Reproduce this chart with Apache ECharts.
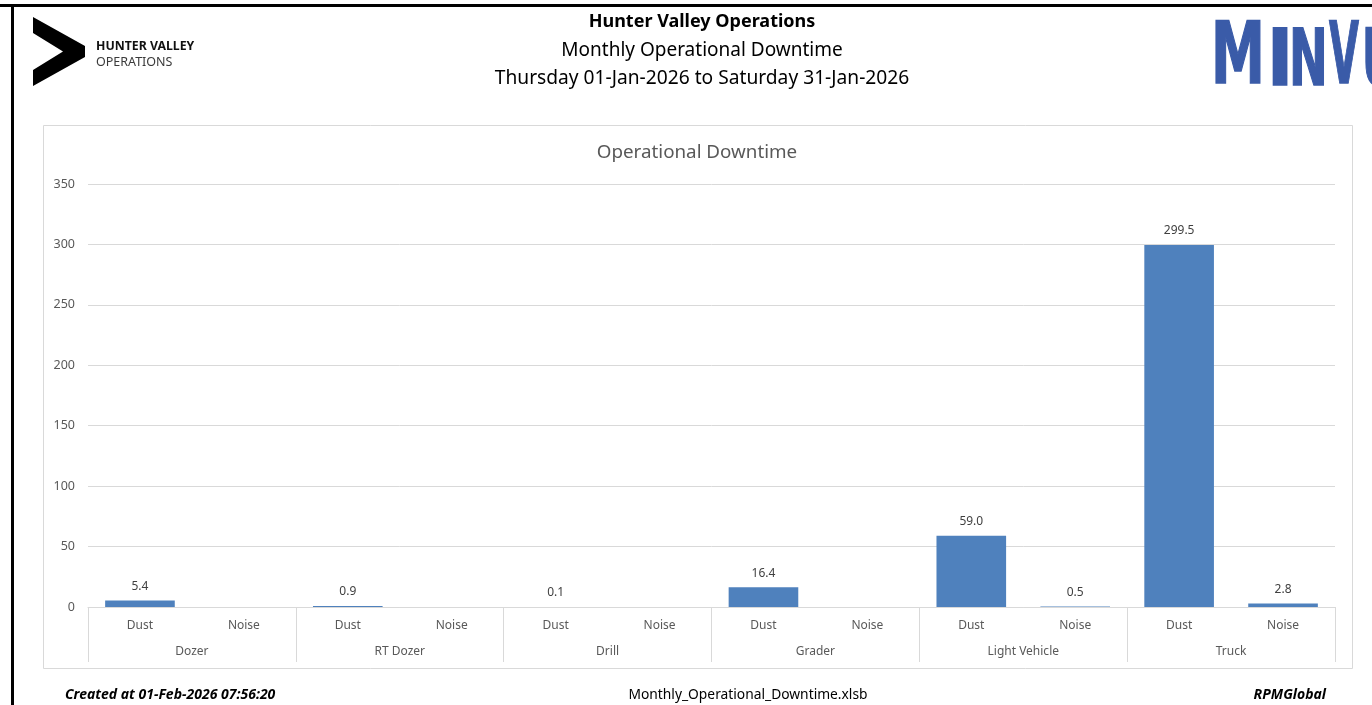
<!DOCTYPE html>
<html>
<head>
<meta charset="utf-8">
<script src="https://cdn.jsdelivr.net/npm/echarts@6/dist/echarts.min.js"></script>
<style>
html,body{margin:0;padding:0;background:#fff;}
#main{width:1372px;height:705px;}
</style>
</head>
<body>
<div id="main"></div>
<script>
// ---- data ----
const groups = ['Dozer', 'RT Dozer', 'Drill', 'Grader', 'Light Vehicle', 'Truck'];
const subTypes = ['Dust', 'Noise'];
const dustValues = [5.4, 0.9, 0.1, 16.4, 59.0, 299.5];
const noiseValues = [null, null, null, null, 0.5, 2.8];
const yTicks = [0, 50, 100, 150, 200, 250, 300, 350];

// build interleaved category / value lists
const subCats = [];
const values = [];
groups.forEach((g, i) => {
  subCats.push(subTypes[0]); values.push(dustValues[i] === null ? '-' : dustValues[i]);
  subCats.push(subTypes[1]); values.push(noiseValues[i] === null ? '-' : noiseValues[i]);
});

const FONT = '"Noto Sans", sans-serif';
const LOGO_BLUE = '#3a5ba8';
const chart = echarts.init(document.getElementById('main'), null, {renderer: 'canvas'});

function logoLetter(ch, x, y, size, sx) {
  return {type: 'text', x: x, y: y, scaleX: sx, silent: true,
    style: {text: ch, font: 'bold ' + size + 'px "DejaVu Sans Condensed"', fill: LOGO_BLUE,
      stroke: LOGO_BLUE, lineWidth: 1.5, align: 'left', verticalAlign: 'bottom'}};
}

const option = {
  backgroundColor: '#ffffff',
  animation: false,
  textStyle: {fontFamily: FONT},
  grid: {left: 88, right: 37, top: 184, bottom: 98},
  xAxis: [{
    type: 'category',
    data: subCats,
    position: 'bottom',
    axisLine: {show: true, lineStyle: {color: '#d9d9d9', width: 1}},
    axisTick: {show: false},
    axisLabel: {color: '#595959', fontSize: 12, margin: 13, fontFamily: FONT, interval: 0}
  }, {
    type: 'category',
    data: groups,
    position: 'bottom',
    axisLine: {show: false},
    axisTick: {show: true, length: 55, interval: 0, lineStyle: {color: '#d9d9d9', width: 1}},
    axisLabel: {color: '#595959', fontSize: 12, margin: 39, fontFamily: FONT, interval: 0}
  }],
  yAxis: {
    type: 'value',
    min: yTicks[0], max: yTicks[yTicks.length - 1], interval: yTicks[1] - yTicks[0],
    axisLine: {show: false},
    axisTick: {show: false},
    splitLine: {lineStyle: {color: '#d9d9d9', width: 1}},
    axisLabel: {color: '#595959', fontSize: 12.5, margin: 13, fontFamily: FONT}
  },
  series: [{
    type: 'bar',
    xAxisIndex: 0,
    data: values,
    barWidth: '67%',
    itemStyle: {color: '#4f81bd'},
    label: {
      show: true, position: 'top', distance: 8,
      color: '#404040', fontSize: 12, fontFamily: FONT,
      formatter: p => (typeof p.value === 'number' ? p.value.toFixed(1) : '')
    }
  }],
  graphic: [
    // page borders
    {type: 'rect', shape: {x: 0, y: 4, width: 1372, height: 3}, style: {fill: '#000'}, silent: true},
    {type: 'rect', shape: {x: 11, y: 4, width: 3, height: 701}, style: {fill: '#000'}, silent: true},
    // chart box
    {type: 'rect', shape: {x: 43.5, y: 125.5, width: 1309, height: 543}, style: {fill: 'none', stroke: '#d9d9d9', lineWidth: 1}, z: -1, silent: true},
    // chart title
    {type: 'text', x: 697, y: 153, style: {text: 'Operational Downtime', font: '18.8px "Noto Sans"', fill: '#595959', align: 'center', verticalAlign: 'middle'}, silent: true},
    // left logo chevron
    {type: 'polygon', shape: {points: [[33, 17], [85, 46], [85, 57], [33, 86], [33, 70], [63, 51.5], [33, 33]]}, style: {fill: '#000'}, silent: true},
    {type: 'text', x: 96, y: 46, style: {text: 'HUNTER VALLEY', font: 'bold 12.3px "Noto Sans"', fill: '#111', verticalAlign: 'middle'}, silent: true},
    {type: 'text', x: 96, y: 62, style: {text: 'OPERATIONS', font: '12.5px "Noto Sans"', fill: '#3a3a3a', verticalAlign: 'middle'}, silent: true},
    // header titles
    {type: 'text', x: 702, y: 22, style: {text: 'Hunter Valley Operations', font: 'bold 18px "Noto Sans"', fill: '#000', align: 'center', verticalAlign: 'middle'}, silent: true},
    {type: 'text', x: 702, y: 50.5, style: {text: 'Monthly Operational Downtime', font: '19px "Noto Sans"', fill: '#000', align: 'center', verticalAlign: 'middle'}, silent: true},
    {type: 'text', x: 702, y: 78.5, style: {text: 'Thursday 01-Jan-2026 to Saturday 31-Jan-2026', font: '19.2px "Noto Sans"', fill: '#000', align: 'center', verticalAlign: 'middle'}, silent: true},
    // MinVu logo (small caps)
    logoLetter('M', 1211, 104, 86, 0.7),
    logoLetter('I', 1267, 104, 78, 1.0),
    logoLetter('N', 1289, 104, 78, 0.66),
    logoLetter('V', 1329, 104, 86, 0.5),
    logoLetter('U', 1362, 104, 78, 0.6),
    // footer
    {type: 'text', x: 65, y: 695, style: {text: 'Created at 01-Feb-2026 07:56:20', font: 'italic bold 14px "Noto Sans"', fill: '#000', align: 'left', verticalAlign: 'middle'}, silent: true},
    {type: 'text', x: 748, y: 695, style: {text: 'Monthly_Operational_Downtime.xlsb', font: '13.8px "Noto Sans"', fill: '#000', align: 'center', verticalAlign: 'middle'}, silent: true},
    {type: 'text', x: 1326, y: 695, style: {text: 'RPMGlobal', font: 'italic bold 14px "Noto Sans"', fill: '#000', align: 'right', verticalAlign: 'middle'}, silent: true}
  ]
};
chart.setOption(option);
</script>
</body>
</html>
